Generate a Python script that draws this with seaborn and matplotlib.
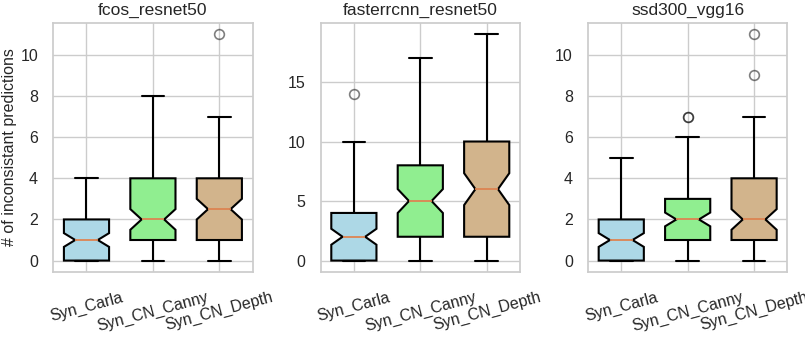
import numpy as np
import pandas as pd
import matplotlib
matplotlib.use("Agg")
import matplotlib.pyplot as plt
import seaborn as sns

# ---- data: number of samples taking each integer value (index = value) ----
models = ["fcos_resnet50", "fasterrcnn_resnet50", "ssd300_vgg16"]
methods = ["Syn_Carla", "Syn_CN_Canny", "Syn_CN_Depth"]
box_colors = ["lightblue", "lightgreen", "tan"]

fcos_carla = [30, 25, 15, 12, 6]
fcos_canny = [10, 20, 16, 14, 10, 7, 5, 4, 2]
fcos_depth = [8, 20, 16, 14, 12, 8, 5, 4, 0, 0, 0, 1]

faster_carla = [24, 14, 12, 9, 9, 5, 4, 3, 3, 2, 2, 0, 0, 0, 1]
faster_canny = [8, 8, 8, 7, 7, 8, 7, 6, 8, 4, 4, 3, 3, 2, 2, 1, 1, 1]
faster_depth = [7, 7, 9, 5, 6, 6, 6, 5, 5, 5, 6, 4, 3, 3, 3, 2, 2, 2, 1, 1]

ssd_carla = [28, 22, 18, 10, 6, 4]
ssd_canny = [10, 20, 24, 16, 8, 5, 3, 2]
ssd_depth = [8, 18, 22, 12, 10, 8, 5, 3, 0, 1, 0, 1]

counts = {
    "fcos_resnet50": [fcos_carla, fcos_canny, fcos_depth],
    "fasterrcnn_resnet50": [faster_carla, faster_canny, faster_depth],
    "ssd300_vgg16": [ssd_carla, ssd_canny, ssd_depth],
}

rows = []
for model in models:
    for method, cnt in zip(methods, counts[model]):
        vals = np.repeat(np.arange(len(cnt)), cnt)
        for v in vals:
            rows.append((model, method, v))
df = pd.DataFrame(rows, columns=["model", "method", "value"])

# ---- plotting ----
sns.set_theme(style="whitegrid")
plt.rcParams["font.family"] = ["Liberation Sans", "DejaVu Sans"]

fig, axes = plt.subplots(1, 3, figsize=(8.05, 3.39), dpi=100)
fig.subplots_adjust(left=0.0662, right=0.978, bottom=0.198, top=0.932, wspace=0.342)

palette = dict(zip(methods, box_colors))
for ax, model in zip(axes, models):
    sub = df[df["model"] == model]
    sns.boxplot(
        data=sub, x="method", y="value", hue="method", order=methods,
        hue_order=methods, palette=palette, saturation=1, notch=True,
        width=0.68, linecolor="black", linewidth=1.5, legend=False,
        medianprops=dict(color="#dd8452", linewidth=1.3),
        flierprops=dict(marker="o", markerfacecolor="none",
                        markeredgecolor="black", alpha=0.5,
                        markersize=7, markeredgewidth=1.2),
        ax=ax,
    )
    ax.set_title(model, fontsize=12.5)
    ax.set_xlabel("")
    ax.set_ylabel("")
    ax.xaxis.grid(True)
    ax.tick_params(axis="x", rotation=15, labelsize=11.5, length=0, pad=13)
    ax.tick_params(axis="y", labelsize=11.5, length=0, pad=11)

axes[0].set_ylabel("# of inconsistant predictions", fontsize=11.5, labelpad=2)

fig.savefig("out.png", dpi=100)
